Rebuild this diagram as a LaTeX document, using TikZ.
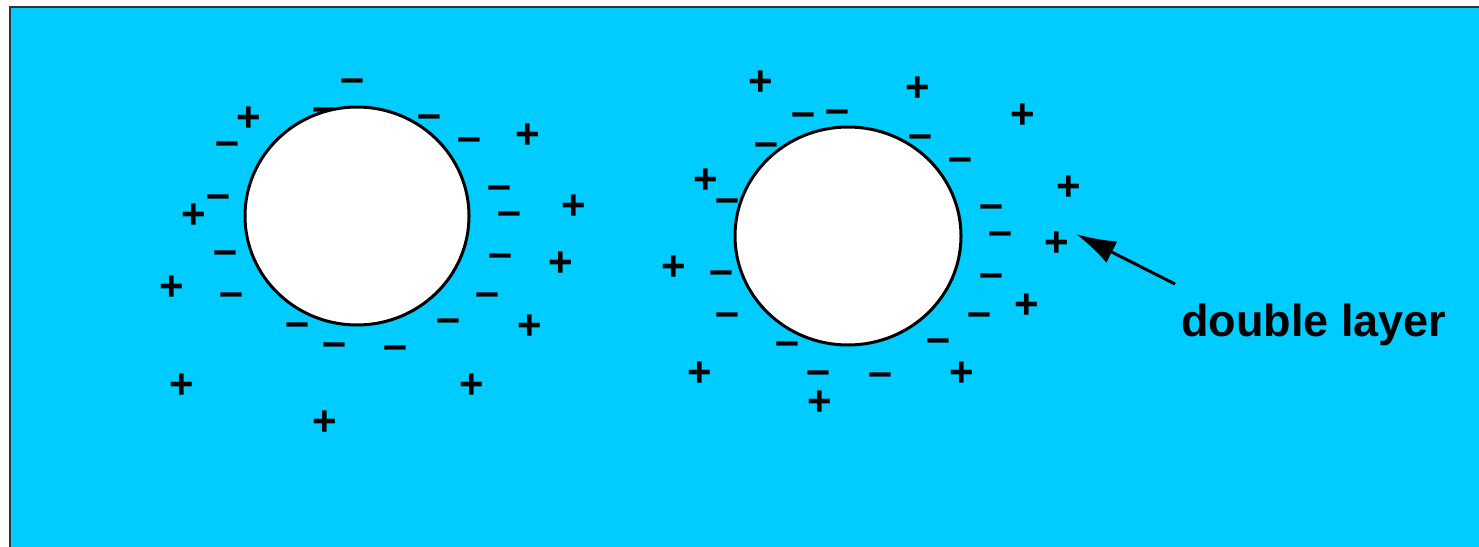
\documentclass[tikz,border=0pt]{standalone}
\usepackage{fontspec}
\setmainfont{Liberation Sans}
\usetikzlibrary{arrows.meta}
\definecolor{water}{HTML}{00CCFF}
\definecolor{frame}{HTML}{333333}
\tikzset{
  pl/.style={anchor=base, inner sep=0pt, yshift=-14.8pt, font=\bfseries\fontsize{42}{42}\selectfont},
  mn/.style={anchor=base, inner sep=0pt, yshift=-11.6pt, font=\bfseries\fontsize{43}{43}\selectfont},
  particle/.style={draw=black, fill=white, line width=3pt},
  lbl/.style={anchor=base west, inner sep=0pt, font=\bfseries\fontsize{45}{45}\selectfont},
}
\begin{document}
\begin{tikzpicture}[x=1pt,y=-1pt]
\useasboundingbox (0,0) rectangle (1479,546);
\fill[white] (0,0) rectangle (1479,546);
\filldraw[fill=water, draw=frame, line width=2pt] (10,7) rectangle (1495,560);
% left particle: minus signs
\node[mn] (lm1) at (352,81) {\textendash};
\node[mn] (lm2) at (324,110) {\textendash};
\node[mn] (lm3) at (429,117) {\textendash};
\node[mn] (lm4) at (469,140) {\textendash};
\node[mn] (lm5) at (227,144) {\textendash};
\node[mn] (lm6) at (218,197) {\textendash};
\node[mn] (lm7) at (499,188) {\textendash};
\node[mn] (lm8) at (509,214) {\textendash};
\node[mn] (lm9) at (225,253) {\textendash};
\node[mn] (lm10) at (500,256) {\textendash};
\node[mn] (lm11) at (231,295) {\textendash};
\node[mn] (lm12) at (487,295) {\textendash};
\node[mn] (lm13) at (297,325) {\textendash};
\node[mn] (lm14) at (448,321) {\textendash};
\node[mn] (lm15) at (334,345) {\textendash};
\node[mn] (lm16) at (395,348) {\textendash};
% left particle: plus signs
\node[pl] (lp1) at (249,117) {+};
\node[pl] (lp2) at (528,134) {+};
\node[pl] (lp3) at (194,214) {+};
\node[pl] (lp4) at (574,205) {+};
\node[pl] (lp5) at (561,262) {+};
\node[pl] (lp6) at (172,286) {+};
\node[pl] (lp7) at (530,325) {+};
\node[pl] (lp8) at (182,384) {+};
\node[pl] (lp9) at (472,384) {+};
\node[pl] (lp10) at (325,421) {+};
% right particle: minus signs
\node[mn] (rm1) at (803,115) {\textendash};
\node[mn] (rm2) at (837,112) {\textendash};
\node[mn] (rm3) at (766,145) {\textendash};
\node[mn] (rm4) at (920,137) {\textendash};
\node[mn] (rm5) at (960,160) {\textendash};
\node[mn] (rm6) at (727,201) {\textendash};
\node[mn] (rm7) at (991,207) {\textendash};
\node[mn] (rm8) at (1000,234) {\textendash};
\node[mn] (rm9) at (721,273) {\textendash};
\node[mn] (rm10) at (991,276) {\textendash};
\node[mn] (rm11) at (727,315) {\textendash};
\node[mn] (rm12) at (979,315) {\textendash};
\node[mn] (rm13) at (787,344) {\textendash};
\node[mn] (rm14) at (938,341) {\textendash};
\node[mn] (rm15) at (818,373) {\textendash};
\node[mn] (rm16) at (880,375) {\textendash};
% right particle: plus signs
\node[pl] (rp1) at (761,81) {+};
\node[pl] (rp2) at (918,87) {+};
\node[pl] (rp3) at (1023,114) {+};
\node[pl] (rp4) at (706,179) {+};
\node[pl] (rp5) at (1069,186) {+};
\node[pl] (rp6) at (1057,242) {+};
\node[pl] (rp7) at (674,266) {+};
\node[pl] (rp8) at (1027,304) {+};
\node[pl] (rp9) at (700,372) {+};
\node[pl] (rp10) at (962,372) {+};
\node[pl] (rp11) at (820,401) {+};
% particles
\draw[particle] (357,216) ellipse [x radius=112, y radius=109];
\draw[particle] (848,236) ellipse [x radius=113, y radius=109];
% label and arrow
\node[lbl] (dl) at (1181,336) {double layer};
\coordinate (tail) at (1175,284);
\coordinate (tip) at (1076,234);
\draw[line width=3pt, -{Latex[length=40pt,width=24pt]}] (tail) -- (tip);
\end{tikzpicture}
\end{document}
